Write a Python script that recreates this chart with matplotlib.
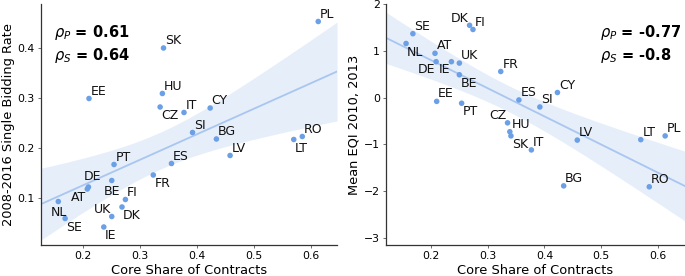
import numpy as np
import matplotlib
matplotlib.use("Agg")
import matplotlib.pyplot as plt

# ---------------- data ----------------
countries = ["PL", "SK", "EE", "HU", "CZ", "IT", "CY", "SI", "BG", "RO", "LT", "LV",
             "PT", "ES", "FR", "DE", "AT", "BE", "FI", "DK", "UK", "NL", "SE", "IE"]

core_share = [0.613, 0.341, 0.210, 0.339, 0.335, 0.377, 0.423, 0.392, 0.434, 0.585, 0.570, 0.458,
              0.254, 0.355, 0.323, 0.209, 0.207, 0.250, 0.274, 0.268, 0.250, 0.156, 0.168, 0.236]

single_bidding = [0.453, 0.400, 0.299, 0.309, 0.282, 0.271, 0.280, 0.231, 0.218, 0.223, 0.217, 0.185,
                  0.167, 0.169, 0.146, 0.122, 0.118, 0.135, 0.097, 0.082, 0.063, 0.093, 0.059, 0.042]

mean_eqi = [-0.82, -0.82, -0.08, -0.73, -0.54, -1.12, 0.11, -0.20, -1.89, -1.91, -0.90, -0.91,
            -0.12, -0.05, 0.56, 0.77, 0.95, 0.49, 1.46, 1.55, 0.74, 1.16, 1.37, 0.77]

rho_left = ("0.61", "0.64")
rho_right = ("-0.77", "-0.8")

# label placement (style only): UR upper-right, LR lower-right, UL upper-left, LL lower-left
pos_left = {"CZ": "LR", "LT": "LR", "FR": "LR", "DK": "LR", "SE": "LR", "IE": "LR",
            "UK": "UL", "AT": "LL", "BE": "B", "NL": "B", "DE": "T"}
pos_right = {"NL": "LR", "DK": "UL", "DE": "LL", "IE": "LL", "BE": "LR", "PT": "LR",
             "CZ": "UL", "SK": "LR"}

COLOR = "#6b9fe6"
plt.rcParams["font.family"] = "DejaVu Sans"

fig = plt.figure(figsize=(6.85, 2.76), dpi=100)
axL = fig.add_axes([41 / 685, 31 / 276, 296 / 685, 241 / 276])
axR = fig.add_axes([386 / 685, 31 / 276, 299 / 685, 241 / 276])


def regband(ax, x, y, xlim):
    x = np.asarray(x); y = np.asarray(y)
    n = len(x)
    b, a = np.polyfit(x, y, 1)
    resid = y - (a + b * x)
    s = np.sqrt(np.sum(resid ** 2) / (n - 2))
    xbar = x.mean(); sxx = np.sum((x - xbar) ** 2)
    xg = np.linspace(xlim[0], xlim[1], 200)
    yg = a + b * xg
    se = s * np.sqrt(1 / n + (xg - xbar) ** 2 / sxx)
    t = 2.074
    ax.fill_between(xg, yg - t * se, yg + t * se, color=COLOR, alpha=0.17, lw=0, zorder=1)
    ax.plot(xg, yg, color=COLOR, alpha=0.5, lw=1.3, zorder=2)


def annotate(ax, x, y, names, pos):
    for xi, yi, nm in zip(x, y, names):
        p = pos.get(nm, "UR")
        if p == "UR":
            off, ha, va = (1.1, 2.8), "left", "baseline"
        elif p == "LR":
            off, ha, va = (0.8, -1.6), "left", "top"
        elif p == "UL":
            off, ha, va = (-0.8, 2.6), "right", "baseline"
        elif p == "LL":
            off, ha, va = (-0.8, -1.2), "right", "top"
        elif p == "B":
            off, ha, va = (0.5, -3.5), "center", "top"
        else:  # T
            off, ha, va = (3.0, 5.0), "center", "baseline"
        ax.annotate(nm, (xi, yi), xytext=off, textcoords="offset points",
                    ha=ha, va=va, fontsize=9, color="#111111", zorder=4)


def style(ax):
    for sp in ["top", "right"]:
        ax.spines[sp].set_visible(False)
    for sp in ["left", "bottom"]:
        ax.spines[sp].set_color("#333333")
        ax.spines[sp].set_linewidth(0.9)
    ax.tick_params(labelsize=7.8, length=2.5, width=0.6, color="#555555", pad=2)
    ax.set_xlabel("Core Share of Contracts", fontsize=9.4, labelpad=2)


# ---------------- left panel ----------------
xlimL = (0.1256, 0.646)
regband(axL, core_share, single_bidding, xlimL)
axL.scatter(core_share, single_bidding, s=16, color=COLOR, edgecolor="none", zorder=3)
annotate(axL, core_share, single_bidding, countries, pos_left)
axL.set_xlim(*xlimL)
axL.set_ylim(0.006, 0.488)
axL.set_xticks([0.2, 0.3, 0.4, 0.5, 0.6])
axL.set_yticks([0.1, 0.2, 0.3, 0.4])
axL.set_ylabel("2008-2016 Single Bidding Rate", fontsize=9.4, labelpad=2)
style(axL)
axL.text(0.044, 0.88, r"$\rho_P$ = " + rho_left[0], transform=axL.transAxes,
         fontsize=10.5, fontweight="bold", va="center", ha="left")
axL.text(0.044, 0.788, r"$\rho_S$ = " + rho_left[1], transform=axL.transAxes,
         fontsize=10.5, fontweight="bold", va="center", ha="left")

# ---------------- right panel ----------------
xlimR = (0.1206, 0.648)
regband(axR, core_share, mean_eqi, xlimR)
axR.scatter(core_share, mean_eqi, s=16, color=COLOR, edgecolor="none", zorder=3)
annotate(axR, core_share, mean_eqi, countries, pos_right)
axR.set_xlim(*xlimR)
axR.set_ylim(-3.157, 2.006)
axR.set_xticks([0.2, 0.3, 0.4, 0.5, 0.6])
axR.set_yticks([-3, -2, -1, 0, 1, 2])
axR.set_ylabel("Mean EQI 2010, 2013", fontsize=9.4, labelpad=2)
style(axR)
axR.text(0.716, 0.88, r"$\rho_P$ = " + rho_right[0], transform=axR.transAxes,
         fontsize=10.5, fontweight="bold", va="center", ha="left")
axR.text(0.716, 0.788, r"$\rho_S$ = " + rho_right[1], transform=axR.transAxes,
         fontsize=10.5, fontweight="bold", va="center", ha="left")

fig.savefig("out.png", dpi=100)
